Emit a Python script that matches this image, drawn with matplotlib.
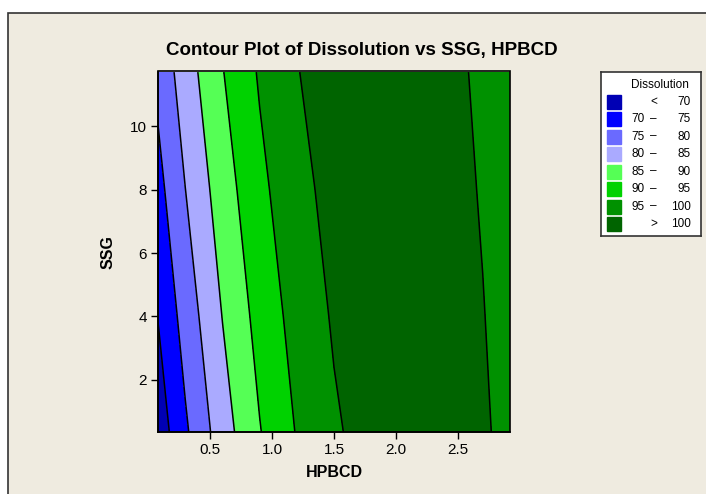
import numpy as np
import matplotlib.pyplot as plt
from matplotlib.patches import Rectangle

plt.rcParams['font.family'] = ['Liberation Sans', 'DejaVu Sans']

# Grid of the fitted response (Dissolution) over HPBCD x SSG
HPBCD = [0.08, 0.3, 0.6, 0.9, 1.2, 1.5, 1.8, 2.1, 2.4, 2.7, 2.92]
SSG = [0.35, 4.0, 8.0, 11.7]
DISSOLUTION = [
    [67.01, 74.20, 82.71, 89.74, 95.29, 99.35, 101.92, 103.01, 102.61, 100.73, 98.41],
    [70.14, 77.02, 85.12, 91.74, 96.86, 100.51, 102.67, 103.34, 102.53, 100.23, 97.60],
    [73.39, 79.95, 87.60, 93.76, 98.44, 101.63, 103.34, 103.56, 102.30, 99.55, 96.59],
    [76.31, 82.56, 89.78, 95.52, 99.78, 102.55, 103.84, 103.64, 101.96, 98.79, 95.52],
]

LEVELS = [70, 75, 80, 85, 90, 95, 100]
BAND_COLORS = ['#0000B4', '#0000FF', '#6A6AFF', '#AAAAFF',
               '#55FF55', '#00D200', '#009100', '#006400']
LEGEND_LOW = ['', '70', '75', '80', '85', '90', '95', '']
LEGEND_SEP = ['<', '–', '–', '–', '–', '–', '–', '>']
LEGEND_HIGH = ['70', '75', '80', '85', '90', '95', '100', '100']

BG = '#EFEBE0'
W, H = 706, 494

fig = plt.figure(figsize=(W / 100, H / 100), dpi=100, facecolor='white')

# beige panel with a dark frame on the top and left edges
fig.patches.append(Rectangle((8 / W, -0.2), 1.3, 0.2 + 1 - 13.5 / H,
                             transform=fig.transFigure, facecolor=BG,
                             edgecolor='#333333', linewidth=1.2, zorder=-10))

ax = fig.add_axes([158 / W, 1 - 432 / H, (510 - 158) / W, (432 - 71.5) / H])
ax.set_facecolor('none')

X, Y = np.meshgrid(HPBCD, SSG)
Z = np.array(DISSOLUTION)
bounds = [-1e3] + LEVELS + [1e3]
ax.contourf(X, Y, Z, levels=bounds, colors=BAND_COLORS)
ax.contour(X, Y, Z, levels=LEVELS, colors='black', linewidths=1.1)

ax.set_xlim(0.08, 2.92)
ax.set_ylim(0.36, 11.72)
ax.set_xticks([0.5, 1.0, 1.5, 2.0, 2.5])
ax.set_yticks([2, 4, 6, 8, 10])
ax.tick_params(direction='out', length=5, width=1, labelsize=11, pad=3)
for s in ['top', 'right']:
    ax.spines[s].set_visible(False)
for s in ['left', 'bottom']:
    ax.spines[s].set_linewidth(1.2)
ax.add_patch(Rectangle((0, 0), 1, 1, transform=ax.transAxes, fill=False,
                       edgecolor='black', linewidth=1.2, zorder=5, clip_on=False))

ax.set_xlabel('HPBCD', fontsize=11.5, fontweight='bold', labelpad=6)
ax.set_ylabel('SSG', fontsize=11.5, fontweight='bold', labelpad=10)

fig.text(362 / W, 1 - 50 / H, 'Contour Plot of Dissolution vs SSG, HPBCD',
         ha='center', va='center', fontsize=13.5, fontweight='bold')

# legend box drawn by hand
lg = fig.add_axes([601 / W, 1 - 236 / H, 100 / W, 164 / H])
lg.set_xlim(0, 100)
lg.set_ylim(164, 0)
lg.set_xticks([])
lg.set_yticks([])
lg.set_facecolor('white')
for s in lg.spines.values():
    s.set_linewidth(1.2)
    s.set_edgecolor('#333333')

lg.text(59, 13, 'Dissolution', ha='center', va='center', fontsize=8.5)
for i, c in enumerate(BAND_COLORS):
    yc = 29.5 + i * 17.5
    lg.add_patch(Rectangle((6, yc - 7), 14, 14, facecolor=c, edgecolor=c))
    lg.text(30, yc, LEGEND_LOW[i], ha='left', va='center', fontsize=8.5)
    lg.text(52.5, yc, LEGEND_SEP[i], ha='center', va='center', fontsize=8.5)
    lg.text(90, yc, LEGEND_HIGH[i], ha='right', va='center', fontsize=8.5)

fig.savefig('out.png', dpi=100, facecolor='white')
